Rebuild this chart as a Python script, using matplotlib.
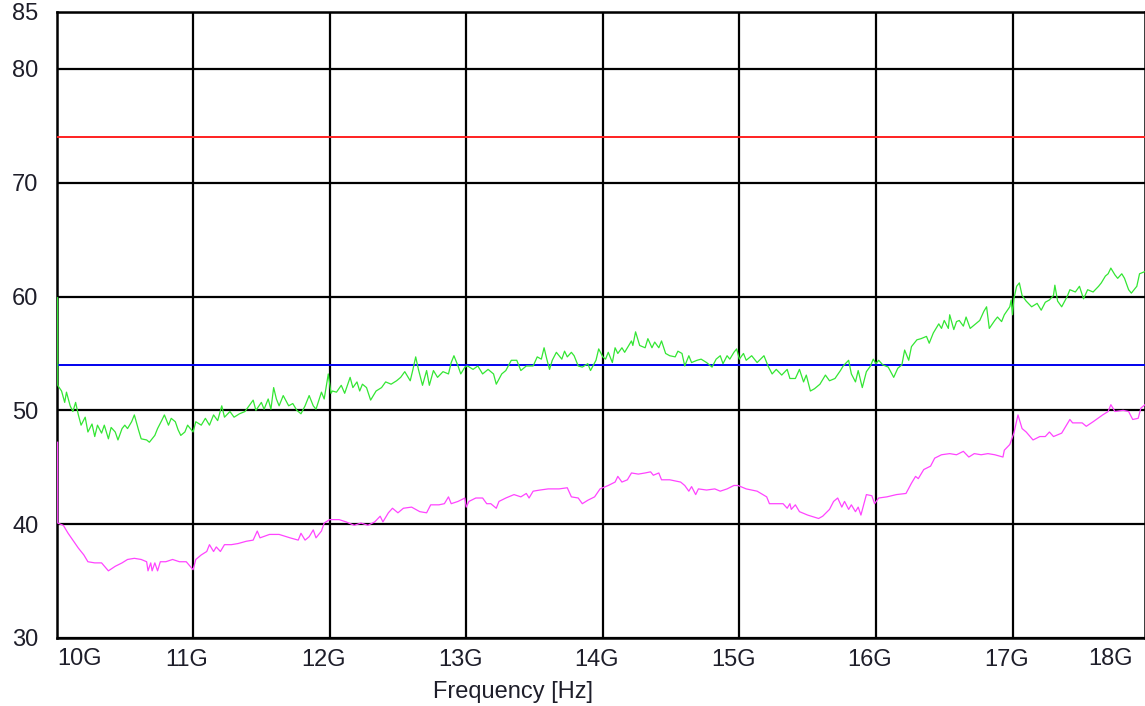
import numpy as np
import matplotlib
matplotlib.use("Agg")
import matplotlib.pyplot as plt
import matplotlib.transforms as mtransforms

plt.rcParams['font.family'] = ['Liberation Sans', 'DejaVu Sans']

# frequency in GHz, level in dB
green_f = [10.008, 10.009, 10.037, 10.06, 10.073, 10.1, 10.12, 10.14, 10.16, 10.18,
           10.21, 10.23, 10.26, 10.28, 10.3, 10.33, 10.35, 10.38, 10.4, 10.43,
           10.45, 10.48, 10.5, 10.52, 10.55, 10.57, 10.6, 10.62, 10.66, 10.68,
           10.72, 10.74, 10.77, 10.79, 10.82, 10.84, 10.87, 10.89, 10.91, 10.94,
           10.96, 11.0, 11.02, 11.06, 11.09, 11.12, 11.15, 11.18, 11.21, 11.23,
           11.27, 11.3, 11.34, 11.38, 11.41, 11.44, 11.46, 11.5, 11.52, 11.55,
           11.57, 11.59, 11.61, 11.63, 11.66, 11.7, 11.73, 11.76, 11.79, 11.82,
           11.85, 11.88, 11.9, 11.94, 11.96, 11.99,
           12.01, 12.02, 12.05, 12.085, 12.11, 12.15, 12.17, 12.2, 12.22, 12.24,
           12.27, 12.3, 12.34, 12.38, 12.41, 12.45, 12.49, 12.52, 12.55, 12.59,
           12.61, 12.63, 12.65, 12.68, 12.71, 12.73, 12.76, 12.79, 12.83, 12.87,
           12.89, 12.91, 12.94, 12.96, 12.99, 13.01, 13.05, 13.085, 13.12, 13.16,
           13.2, 13.22, 13.26, 13.29, 13.33, 13.37, 13.4, 13.44, 13.49, 13.52,
           13.55, 13.57, 13.59, 13.61, 13.63, 13.66, 13.7, 13.72, 13.74, 13.77,
           13.79, 13.82, 13.85, 13.89, 13.91, 13.95, 13.97, 14.0,
           14.02, 14.04, 14.07, 14.09, 14.11, 14.14, 14.16, 14.19, 14.21, 14.22,
           14.24, 14.27, 14.31, 14.33, 14.36, 14.38, 14.41, 14.43, 14.46, 14.49,
           14.53, 14.55, 14.58, 14.6, 14.63, 14.65, 14.69, 14.72, 14.76, 14.8,
           14.83, 14.86, 14.88, 14.91, 14.93, 14.96, 14.98, 15.0, 15.03, 15.05,
           15.09, 15.13, 15.18, 15.21, 15.24, 15.27, 15.31, 15.35, 15.37, 15.41,
           15.44, 15.47, 15.49, 15.52, 15.55, 15.59, 15.63, 15.66, 15.7, 15.74,
           15.76, 15.8, 15.82, 15.85, 15.87, 15.9, 15.93, 15.96, 15.98, 16.0,
           16.02, 16.05, 16.09, 16.13, 16.16, 16.19, 16.21, 16.24, 16.26, 16.3,
           16.33, 16.37, 16.39, 16.42, 16.46, 16.48, 16.5, 16.53, 16.54, 16.57,
           16.59, 16.61, 16.64, 16.66, 16.69, 16.72, 16.76, 16.79, 16.81, 16.83,
           16.87, 16.89, 16.92, 16.94, 16.98, 16.99, 17.0, 17.01, 17.03, 17.05,
           17.07, 17.1, 17.14, 17.18, 17.21, 17.24, 17.27, 17.3, 17.31, 17.33,
           17.36, 17.4, 17.42, 17.46, 17.49, 17.52, 17.55, 17.59, 17.63, 17.65,
           17.68, 17.7, 17.72, 17.75, 17.77, 17.8, 17.82, 17.85, 17.87, 17.91,
           17.93, 17.97]
green_db = [59.9, 52.2, 51.7, 50.7, 51.6, 50.4, 49.9, 50.7, 49.6, 48.7,
            49.4, 48.1, 48.8, 47.7, 48.7, 48.0, 48.7, 47.5, 48.5, 48.1,
            47.4, 48.4, 48.7, 48.4, 49.0, 49.6, 48.3, 47.5, 47.4, 47.2,
            47.8, 48.4, 49.1, 49.6, 48.7, 49.3, 49.0, 48.3, 47.8, 48.1,
            48.7, 48.1, 49.0, 48.7, 49.3, 48.7, 49.6, 49.1, 50.4, 49.4,
            49.9, 49.4, 49.7, 49.9, 50.4, 50.9, 50.0, 50.7, 50.1, 51.0,
            50.1, 52.0, 51.0, 50.4, 51.3, 50.4, 50.6, 50.0, 49.7, 50.4,
            51.3, 50.4, 50.1, 51.6, 51.0, 53.2,
            51.5, 51.7, 51.6, 52.2, 51.5, 52.9, 52.0, 52.5, 51.7, 52.3,
            52.0, 50.9, 51.7, 52.0, 52.5, 52.3, 52.6, 52.9, 53.4, 52.6,
            53.6, 54.7, 53.6, 52.2, 53.5, 52.2, 53.5, 52.9, 53.4, 53.2,
            54.2, 54.8, 53.9, 53.2, 53.8, 53.9, 53.6, 53.9, 53.2, 53.6,
            53.2, 52.3, 53.2, 53.5, 54.4, 54.4, 53.5, 53.9, 53.9, 54.7,
            54.5, 55.5, 54.5, 53.6, 54.4, 55.1, 54.5, 55.2, 54.7, 55.1,
            54.8, 53.9, 53.8, 54.1, 53.5, 54.4, 55.4, 54.7,
            54.5, 55.1, 54.2, 55.5, 55.0, 55.5, 55.1, 55.7, 56.1, 55.7,
            56.9, 55.7, 55.5, 56.3, 55.5, 56.0, 55.5, 56.1, 55.0, 54.8,
            54.7, 55.2, 55.0, 53.9, 54.8, 54.2, 54.4, 54.5, 54.2, 53.8,
            54.5, 54.8, 54.1, 54.8, 54.5, 55.1, 55.4, 54.5, 55.0, 54.4,
            54.8, 54.2, 54.8, 53.9, 53.2, 53.6, 53.1, 53.6, 52.8, 52.8,
            53.6, 52.5, 53.1, 51.7, 51.9, 52.3, 53.1, 52.6, 52.8, 53.5,
            53.9, 54.4, 53.2, 52.5, 53.5, 52.0, 53.4, 53.9, 54.5, 54.1,
            54.4, 54.0, 53.8, 52.9, 53.7, 54.0, 55.3, 54.4, 55.6, 56.2,
            56.3, 56.5, 55.9, 56.8, 57.6, 57.2, 57.9, 57.2, 58.4, 57.1,
            57.8, 57.9, 57.4, 58.2, 57.2, 57.5, 57.9, 58.7, 59.1, 57.2,
            57.9, 58.2, 57.8, 58.4, 59.1, 59.7, 58.4, 59.8, 60.9, 61.2,
            60.1, 59.6, 59.1, 59.4, 58.8, 59.5, 59.7, 60.1, 61.0, 59.6,
            59.1, 60.0, 60.6, 60.4, 60.9, 59.8, 60.6, 60.4, 60.9, 61.2,
            61.8, 62.0, 62.5, 61.9, 61.6, 62.0, 61.6, 60.6, 60.3, 60.9,
            62.0, 62.2]

magenta_f = [10.008, 10.009, 10.05, 10.085, 10.12, 10.16, 10.2, 10.23, 10.28, 10.33,
             10.38, 10.43, 10.48, 10.52, 10.57, 10.62, 10.66, 10.67, 10.69, 10.7,
             10.72, 10.74, 10.76, 10.8, 10.85, 10.9, 10.95, 11.0, 11.02, 11.06,
             11.1, 11.12, 11.15, 11.17, 11.2, 11.23, 11.28, 11.33, 11.39, 11.44,
             11.47, 11.49, 11.56, 11.63, 11.71, 11.77, 11.79, 11.82, 11.85, 11.88,
             11.9, 11.94, 11.96, 12.0, 12.07, 12.12, 12.18, 12.23, 12.28, 12.33,
             12.37, 12.39, 12.43, 12.46, 12.5, 12.54, 12.6, 12.66, 12.71, 12.74,
             12.8, 12.84, 12.87, 12.89, 12.94, 12.99, 13.0, 13.02, 13.07, 13.12,
             13.15, 13.18, 13.22, 13.24, 13.29, 13.35, 13.4, 13.44, 13.46, 13.49,
             13.54, 13.6, 13.68, 13.74, 13.77, 13.82, 13.85, 13.89, 13.94, 13.98,
             14.02, 14.04, 14.09, 14.11, 14.14, 14.18, 14.21, 14.26, 14.31, 14.35,
             14.37, 14.41, 14.43, 14.49, 14.57, 14.6, 14.63, 14.65, 14.68, 14.7,
             14.76, 14.82, 14.86, 14.91, 14.96, 14.99, 15.05, 15.13, 15.2, 15.22,
             15.27, 15.32, 15.35, 15.37, 15.38, 15.41, 15.44, 15.5, 15.58, 15.61,
             15.66, 15.69, 15.72, 15.75, 15.77, 15.8, 15.82, 15.85, 15.87, 15.89,
             15.93, 15.97, 15.99, 16.02, 16.08, 16.15, 16.22, 16.26, 16.29, 16.31,
             16.35, 16.4, 16.43, 16.48, 16.54, 16.59, 16.64, 16.68, 16.72, 16.77,
             16.82, 16.87, 16.93, 16.94, 16.98, 17.01, 17.04, 17.07, 17.1, 17.15,
             17.2, 17.24, 17.27, 17.3, 17.36, 17.42, 17.44, 17.51, 17.54, 17.59,
             17.66, 17.7, 17.72, 17.75, 17.81, 17.85, 17.88, 17.92, 17.94, 17.97]
magenta_db = [47.2, 40.1, 39.9, 39.2, 38.6, 37.9, 37.3, 36.7, 36.6, 36.6,
              35.9, 36.3, 36.6, 36.9, 37.0, 36.9, 36.7, 35.9, 36.6, 35.9,
              36.6, 35.9, 36.7, 36.7, 36.9, 36.7, 36.7, 36.0, 36.9, 37.3,
              37.6, 38.2, 37.6, 38.0, 37.6, 38.2, 38.2, 38.3, 38.5, 38.6,
              39.4, 38.8, 39.1, 39.1, 38.8, 38.6, 39.2, 38.6, 38.9, 39.5,
              38.8, 39.4, 40.1, 40.4, 40.4, 40.2, 39.9, 40.1, 39.9, 40.2,
              40.7, 40.2, 41.0, 41.4, 41.0, 41.4, 41.5, 41.1, 41.0, 41.7,
              41.7, 41.8, 42.4, 41.8, 42.0, 42.3, 41.5, 42.0, 42.3, 42.3,
              41.8, 41.8, 41.4, 42.0, 42.3, 42.6, 42.4, 42.7, 42.3, 42.9,
              43.0, 43.1, 43.1, 43.2, 42.4, 42.3, 41.8, 42.1, 42.4, 43.1,
              43.3, 43.4, 43.7, 44.2, 43.7, 43.9, 44.5, 44.4, 44.5, 44.6,
              44.3, 44.5, 43.9, 43.9, 43.7, 43.4, 42.9, 43.3, 42.6, 43.1,
              43.0, 43.1, 42.9, 43.1, 43.4, 43.4, 43.1, 42.9, 42.4, 41.8,
              41.8, 41.8, 41.4, 41.8, 41.3, 41.7, 41.1, 40.8, 40.5, 40.7,
              41.3, 42.0, 42.3, 41.5, 42.0, 41.3, 41.7, 41.1, 41.5, 40.8,
              42.6, 42.5, 41.8, 42.3, 42.4, 42.6, 42.7, 43.6, 44.2, 44.0,
              44.8, 45.1, 45.8, 46.1, 46.2, 46.1, 46.4, 45.9, 46.2, 46.1,
              46.2, 46.1, 45.9, 46.5, 47.0, 48.0, 49.6, 48.4, 48.1, 47.4,
              47.7, 47.7, 48.1, 47.7, 48.0, 49.2, 48.9, 48.9, 48.6, 49.0,
              49.6, 49.9, 50.5, 49.9, 50.0, 49.9, 49.2, 49.3, 50.2, 50.5]

limit_red = 74
limit_blue = 54

x_ticks = [11, 12, 13, 14, 15, 16, 17]
x_labels = ["11G", "12G", "13G", "14G", "15G", "16G", "17G"]
y_ticks = [30, 40, 50, 60, 70, 80, 85]

W, H = 1145, 706
fig = plt.figure(figsize=(W / 100, H / 100), dpi=100)
ax = fig.add_axes([56.5 / W, 1 - 638 / H, (W - 56.5) / W, (638 - 12) / H])

txt_color = "#1e1e2a"
fs = 17

ax.axhline(limit_red, color="#ff2020", lw=1.4, zorder=3)
ax.axhline(limit_blue, color="#0000ee", lw=1.4, zorder=3)
ax.plot(green_f, green_db, color="#33e633", lw=0.9, zorder=4)
ax.plot(magenta_f, magenta_db, color="#ff44ff", lw=0.9, zorder=4)

ax.set_xlim(10.0, 17.97)
ax.set_ylim(30, 85)
ax.set_yticks(y_ticks)
ax.set_yticklabels([str(v) for v in y_ticks], fontsize=fs, color=txt_color)
ax.set_xticks(x_ticks)
ax.set_xticklabels(x_labels, fontsize=fs, color=txt_color)
ax.tick_params(axis="x", length=0, pad=8)
ax.tick_params(axis="y", length=0, pad=13)

# x labels sit a bit left of their grid lines
shift = mtransforms.ScaledTranslation(-0.06, 0, fig.dpi_scale_trans)
for lab in ax.get_xticklabels():
    lab.set_transform(lab.get_transform() + shift)

# end labels squeezed inside the frame
trans = mtransforms.blended_transform_factory(ax.transData, ax.transAxes)
for xpos, name in [(10.17, "10G"), (17.72, "18G")]:
    ax.text(xpos, -0.034, name, transform=trans, ha="center", va="center",
            fontsize=fs, color=txt_color)

ax.grid(True, color="black", lw=1.6)
ax.set_axisbelow(True)
for s in ax.spines.values():
    s.set_color("black")
    s.set_linewidth(1.8)

ax.set_xlabel("Frequency [Hz]", fontsize=fs, color=txt_color)
ax.xaxis.set_label_coords(0.419, -0.068)

fig.savefig("out.png", dpi=100)
